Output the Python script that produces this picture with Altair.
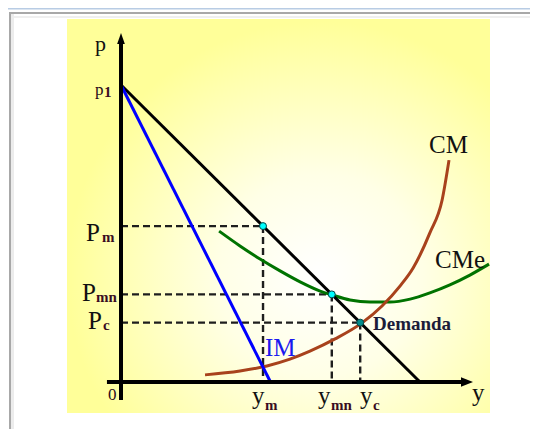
import altair as alt
import pandas as pd

# ---------------- data (economic units: quantity y on x, price p on y) ----------------
demand_q = [0.0, 10.0]
demand_p = [10.0, 0.0]
im_q = [0.0, 5.0]
im_p = [10.0, 0.0]
cm_q = [2.81, 3.98, 4.88, 5.65, 6.32, 7.16, 8.06, 8.73, 9.33, 9.77, 10.33, 10.74, 10.97]
cm_p = [0.24, 0.37, 0.54, 0.77, 1.04, 1.45, 1.99, 2.56, 3.23, 3.84, 5.02, 6.13, 7.47]
cme_q = [3.28, 3.98, 4.65, 5.32, 5.99, 6.66, 7.06, 7.66, 8.33, 9.00, 9.67, 10.33, 11.00, 11.67, 12.31]
cme_p = [5.08, 4.58, 4.14, 3.74, 3.37, 3.06, 2.93, 2.76, 2.69, 2.69, 2.79, 3.00, 3.27, 3.60, 3.97]
eq_kind = ["m", "mn", "c"]
eq_q = [4.75, 7.05, 8.0]
eq_p = [5.25, 2.95, 2.0]

# axes (economic units)
vaxis_q = [0.0, 0.0]
vaxis_p = [-0.61, 11.5]
haxis_q = [-0.47, 11.5]
haxis_p = [0.0, 0.0]
arrow_up = [0.0, 11.566]
arrow_right = [11.572, 0.0]

# labels (anchor = left / baseline, economic units)
big_text = ["P", "P", "P", "y", "y", "y", "y", "CM", "CMe"]
big_q = [-1.171, -1.304, -1.104, 4.381, 6.589, 7.993, 11.739, 10.301, 10.502]
big_p = [4.747, 2.727, 1.785, -0.741, -0.741, -0.741, -0.640, 7.710, 3.838]

sub_text = ["1", "m", "mn", "c", "m", "mn", "c"]
sub_q = [-0.569, -0.635, -0.836, -0.602, 4.816, 7.023, 8.428]
sub_p = [9.596, 4.714, 2.694, 1.751, -0.943, -0.943, -0.943]

small_text = ["p", "0"]
small_q = [-0.870, -0.435]
small_p = [9.663, -0.606]

axis_p_text = ["p"]
axis_p_q = [-0.870]
axis_p_p = [11.145]

im_label = ["IM"]
im_label_q = [4.816]
im_label_p = [0.875]

dem_label = ["Demanda"]
dem_label_q = [8.428]
dem_label_p = [1.751]

# ---------------- scales ----------------
QMIN, QMAX = -113 / 29.9, 409 / 29.9
PMIN, PMAX = -47 / 29.7, 374 / 29.7
W, H = 522, 421
FONT = "Liberation Serif"

X = lambda f="q": alt.X(f"{f}:Q", scale=alt.Scale(domain=[QMIN, QMAX], nice=False, zero=False), axis=None)
Y = lambda f="p": alt.Y(f"{f}:Q", scale=alt.Scale(domain=[PMIN, PMAX], nice=False, zero=False), axis=None)

one = pd.DataFrame({"k": [0]})


def box(color, x1, x2, y1, y2, fill=None):
    m = alt.Chart(one).mark_rect(fill=fill if fill is not None else color, stroke=None)
    return m.encode(x=alt.value(x1), x2=alt.value(x2), y=alt.value(y1), y2=alt.value(y2))


yellow_grad = alt.RadialGradient(
    gradient="radial",
    stops=[
        alt.GradientStop(offset=0.0, color="#FFFFFF"),
        alt.GradientStop(offset=0.4, color="#FFFFE6"),
        alt.GradientStop(offset=1.0, color="#FFFF99"),
    ],
    x1=0.6, y1=0.64, r1=0.0, x2=0.6, y2=0.64, r2=0.6,
)

frame = [
    box("#B8CCE4", 0, W, 0, 1.5),
    box("#A8A8A8", 1, W, 4, 6),
    box("#EFEFEF", 1, W, 8, 10),
    box("#A8A8A8", 1, 3, 4, H),
    box("#ECECEC", 3, 6, 6, H),
    box(None, 59, 482, 11, 405, fill=yellow_grad),
]


def line(qs, ps, color, width=3, interp="linear"):
    df = pd.DataFrame({"q": qs, "p": ps, "o": range(len(qs))})
    return alt.Chart(df).mark_line(color=color, strokeWidth=width, interpolate=interp, strokeCap="butt").encode(
        x=X(), y=Y(), order="o:O"
    )


# dashed guides
h_guides = pd.DataFrame({"q": [0.0] * 3, "q2": eq_q, "p": eq_p})
v_guides = pd.DataFrame({"q": eq_q, "p": eq_p, "p2": [0.0] * 3})
dash_h = alt.Chart(h_guides).mark_rule(color="#1e1e1e", strokeWidth=2.4, strokeDash=[7, 4]).encode(
    x=X(), x2=alt.X2("q2:Q"), y=Y()
)
dash_v = alt.Chart(v_guides).mark_rule(color="#1e1e1e", strokeWidth=2.4, strokeDash=[7, 4]).encode(
    x=X(), y=Y(), y2=alt.Y2("p2:Q")
)

cme = line(cme_q, cme_p, "#007300", 3, "monotone")
cm = line(cm_q, cm_p, "#A8421C", 3, "monotone")
demand = line(demand_q, demand_p, "#000000", 3)
im = line(im_q, im_p, "#0000FF", 3)

vaxis = line(vaxis_q, vaxis_p, "#000000", 4)
haxis = line(haxis_q, haxis_p, "#000000", 4)
up = alt.Chart(pd.DataFrame({"q": [arrow_up[0]], "p": [arrow_up[1]]})).mark_point(
    shape="M0,-1L0.7,1L-0.7,1Z", size=121, filled=True, fill="#000000", opacity=1, strokeWidth=0
).encode(x=X(), y=Y())
right = alt.Chart(pd.DataFrame({"q": [arrow_right[0]], "p": [arrow_right[1]]})).mark_point(
    shape="M1,0L-1,-0.8L-1,0.8Z", size=144, filled=True, fill="#000000", opacity=1, strokeWidth=0
).encode(x=X(), y=Y())

pts = alt.Chart(pd.DataFrame({"q": eq_q, "p": eq_p, "k": eq_kind})).mark_circle(
    size=48, opacity=1, stroke="#004848", strokeWidth=1
).encode(
    x=X(), y=Y(),
    color=alt.Color("k:N", scale=alt.Scale(domain=["m", "mn", "c"], range=["#00FFFF", "#00FFFF", "#008C8C"]), legend=None),
)


def texts(t, qs, ps, size, color, weight="normal"):
    df = pd.DataFrame({"t": t, "q": qs, "p": ps})
    return alt.Chart(df).mark_text(
        font=FONT, fontSize=size, color=color, fontWeight=weight, align="left", baseline="alphabetic"
    ).encode(x=X(), y=Y(), text="t:N")


labels = [
    texts(big_text, big_q, big_p, 25, "#111111"),
    texts(sub_text, sub_q, sub_p, 15, "#3a0c22", "bold"),
    texts(small_text, small_q, small_p, 17, "#2a0c1a"),
    texts(axis_p_text, axis_p_q, axis_p_p, 22, "#111111"),
    texts(im_label, im_label_q, im_label_p, 25, "#1a1aF0"),
    texts(dem_label, dem_label_q, dem_label_p, 19, "#1c1c3a", "bold"),
]

chart = alt.layer(
    *frame, dash_h, dash_v, cme, cm, demand, im, vaxis, haxis, up, right, pts, *labels
).properties(
    width=W, height=H, padding=0, background="#FFFFFF",
    autosize=alt.AutoSizeParams(type="fit", contains="padding"),
).configure_view(stroke=None)

chart.save("out.html", embed_options={"renderer": "svg", "actions": False})
